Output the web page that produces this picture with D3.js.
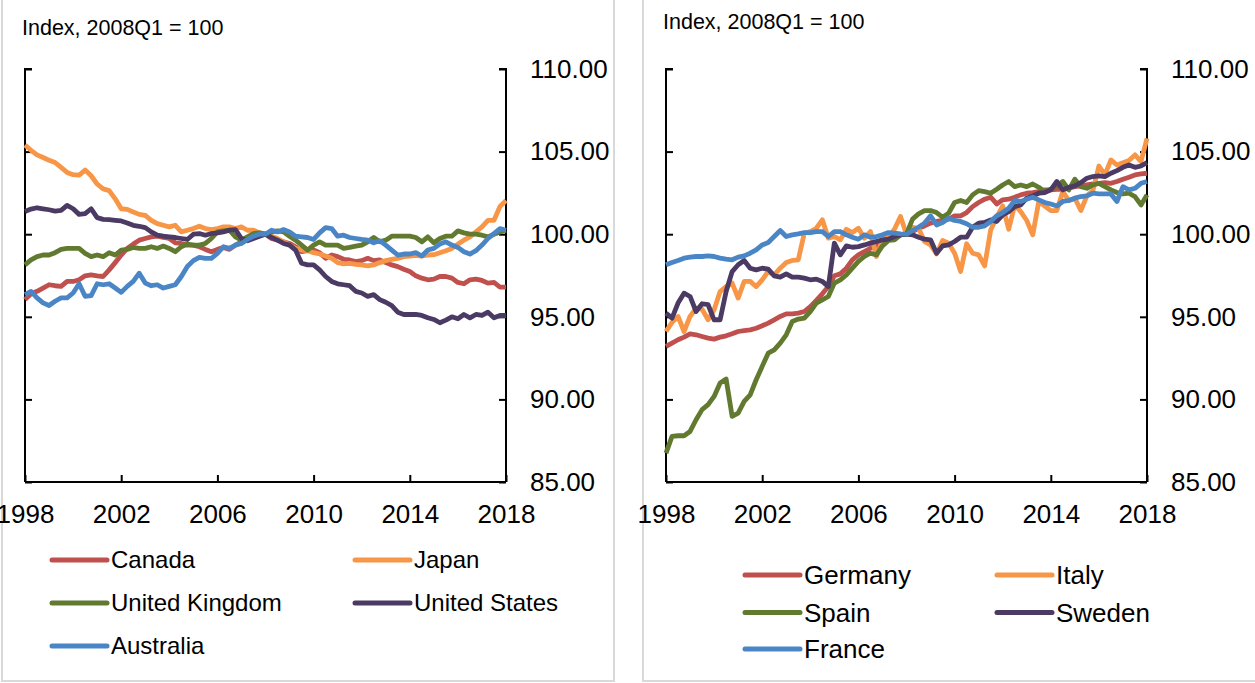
<!DOCTYPE html>
<html>
<head>
<meta charset="utf-8">
<script src="https://cdn.jsdelivr.net/npm/d3@7"></script>
<style>
  html, body { margin: 0; padding: 0; background: #ffffff; }
  svg { display: block; font-family: "Liberation Sans", Arial, sans-serif; }
</style>
</head>
<body>
<svg id="chart" width="1255" height="683"></svg>
<script>
// Quarterly house-price style indices, 1998Q1 .. 2018Q1, 2008Q1 = 100
const startYear = 1998;
const yearTicks = [1998, 2002, 2006, 2010, 2014, 2018];
const valueTicks = [85, 90, 95, 100, 105, 110];
const unitLabel = "Index, 2008Q1 = 100";

const leftCountries = ["Canada", "Japan", "United Kingdom", "United States", "Australia"];
const rightCountries = ["Germany", "Italy", "Spain", "Sweden", "France"];

const canada = [
  96.04,96.4,96.54,96.74,96.94,96.88,96.84,97.14,97.14,97.24,
  97.48,97.54,97.48,97.44,97.84,98.28,98.74,99.14,99.4,99.64,
  99.74,99.84,99.88,99.8,99.74,99.48,99.44,99.34,99.34,99.24,
  99.08,98.94,99.08,99.2,99.08,99.34,99.54,99.68,99.8,99.94,
  100,99.74,99.64,99.54,99.44,99.24,98.94,99.0,99.04,98.88,
  98.54,98.74,98.64,98.48,98.44,98.34,98.4,98.54,98.4,98.44,
  98.28,98.14,98.04,97.88,97.74,97.48,97.34,97.24,97.28,97.44,
  97.44,97.34,97.08,97.0,97.24,97.28,97.2,97.04,97.08,96.8,
  96.8];
const japan = [
  105.4,105.08,104.8,104.64,104.48,104.34,104.04,103.74,103.6,103.58,
  103.88,103.54,103.04,102.74,102.64,102.14,101.54,101.5,101.34,101.2,
  101.14,100.84,100.64,100.54,100.44,100.54,100.14,100.24,100.34,100.48,
  100.34,100.28,100.34,100.44,100.44,100.34,100.44,100.24,100.24,100.08,
  100,99.88,99.74,99.54,99.34,99.14,99.04,99.0,98.88,98.8,
  98.68,98.54,98.28,98.2,98.24,98.18,98.14,98.08,98.14,98.28,
  98.4,98.48,98.54,98.64,98.68,98.72,98.68,98.74,98.76,98.88,
  99.0,99.14,99.4,99.64,99.84,100.14,100.44,100.84,100.84,101.68,
  102.04];
const unitedKingdom = [
  98.14,98.44,98.64,98.74,98.74,98.88,99.08,99.14,99.14,99.14,
  98.84,98.64,98.74,98.64,98.88,98.74,99.04,99.08,99.2,99.14,
  99.14,99.24,99.14,99.28,99.14,98.94,99.24,99.4,99.34,99.34,
  99.44,99.74,100.14,100.2,100.24,99.84,99.64,99.84,100.04,100.08,
  100,100.14,100.2,100.14,99.88,99.64,99.34,99.04,99.34,99.54,
  99.34,99.34,99.34,99.14,99.2,99.28,99.34,99.54,99.8,99.54,
  99.64,99.88,99.88,99.88,99.88,99.8,99.54,99.84,99.48,99.74,
  99.88,99.88,100.2,100.08,100.0,100.0,99.94,99.84,100.0,100.14,
  100.24];
const unitedStates = [
  101.38,101.52,101.6,101.54,101.48,101.4,101.44,101.74,101.54,101.2,
  101.24,101.54,101.0,100.9,100.88,100.84,100.8,100.68,100.54,100.48,
  100.4,100.14,99.94,99.88,99.84,99.8,99.74,99.68,100.0,100.04,
  99.94,100.04,100.08,100.14,100.24,100.28,99.74,99.6,99.74,99.88,
  100,99.8,99.64,99.44,99.34,99.04,98.24,98.14,98.14,97.84,
  97.44,97.14,97.0,96.94,96.88,96.54,96.44,96.24,96.34,96.04,
  95.88,95.68,95.28,95.14,95.14,95.14,95.08,94.94,94.84,94.64,
  94.8,95.0,94.88,95.14,94.94,95.14,95.08,95.28,94.94,95.08,
  95.08];
const australia = [
  96.34,96.54,96.14,95.84,95.68,95.94,96.14,96.14,96.44,97.0,
  96.24,96.28,97.0,96.94,97.0,96.74,96.48,96.84,97.14,97.64,
  97.04,96.88,96.94,96.74,96.84,96.94,97.44,98.04,98.4,98.6,
  98.54,98.54,98.84,99.24,99.14,99.34,99.44,99.68,99.88,100.0,
  100,100.24,100.14,100.28,100.14,99.88,99.84,99.8,99.68,100.08,
  100.4,100.34,99.88,99.94,99.8,99.74,99.68,99.64,99.48,99.6,
  99.34,99.04,98.74,98.8,98.8,98.88,98.68,99.04,99.14,99.4,
  99.54,99.34,99.2,98.94,98.8,99.0,99.34,99.74,100.04,100.34,
  100.24];

const germany = [
  93.21,93.41,93.61,93.77,93.97,93.91,93.81,93.71,93.65,93.77,
  93.85,93.97,94.11,94.17,94.21,94.31,94.46,94.62,94.82,95.02,
  95.18,95.18,95.22,95.32,95.62,95.99,96.39,96.83,97.48,97.6,
  97.94,98.45,98.75,98.95,99.15,99.29,99.56,99.76,99.86,99.96,
  100,100.16,100.36,100.5,100.67,100.77,100.83,100.91,101.11,101.11,
  101.31,101.67,101.92,102.12,102.24,101.83,102.08,102.12,102.24,102.38,
  102.48,102.52,102.58,102.68,102.68,102.72,102.72,102.78,102.88,102.92,
  102.98,103.04,103.08,103.12,103.08,103.19,103.33,103.45,103.59,103.65,
  103.69];
const italy = [
  94.11,94.66,95.02,94.11,95.02,95.52,95.46,94.82,95.42,96.53,
  96.83,97.04,96.13,97.14,97.14,96.83,97.24,97.74,97.54,97.94,
  98.29,98.41,98.45,100.06,100.16,100.36,100.87,99.76,99.86,99.66,
  100.3,100.1,100.36,99.76,100.16,98.65,99.66,99.86,100.3,101.07,
  100,100.42,100.36,99.56,99.35,98.81,99.62,99.46,98.85,97.74,
  99.42,98.85,98.75,98.08,100.26,101.03,101.71,100.3,101.77,101.37,
  100.83,99.96,101.98,101.71,101.43,101.43,102.58,102.04,102.18,101.43,
  102.32,102.64,104.13,103.59,104.5,104.19,104.33,104.46,104.8,104.4,
  105.8];
const spain = [
  86.75,87.76,87.8,87.8,88.06,88.77,89.38,89.68,90.18,90.99,
  91.23,88.97,89.17,89.88,90.28,91.19,92.0,92.8,93.0,93.41,
  93.91,94.72,94.86,94.92,95.32,95.83,96.03,96.23,97.04,97.24,
  97.54,97.94,98.35,98.65,98.85,98.75,99.29,99.62,99.66,99.96,
  100,100.91,101.23,101.43,101.43,101.31,101.03,101.27,101.92,102.04,
  101.92,102.38,102.64,102.58,102.48,102.72,102.98,103.19,102.88,102.98,
  102.88,103.04,102.84,102.58,102.72,102.92,103.19,102.68,103.33,102.88,
  102.78,102.98,103.08,102.88,102.68,102.52,102.44,102.48,102.28,101.77,
  102.38];
const sweden = [
  95.22,94.92,95.83,96.43,96.23,95.32,95.79,95.73,94.82,94.82,
  96.53,97.74,98.15,98.41,97.94,97.84,97.94,97.88,97.48,97.4,
  97.6,97.4,97.4,97.34,97.24,97.28,97.14,96.83,99.46,98.75,
  99.29,99.21,99.25,99.35,99.46,99.56,99.66,99.7,99.86,99.96,
  100,99.96,99.82,99.7,99.66,98.85,99.29,99.35,99.56,99.82,
  99.82,100.42,100.67,100.71,100.87,100.77,101.17,101.37,101.67,101.77,
  102.18,102.32,102.48,102.52,102.68,103.19,102.68,102.84,102.92,103.12,
  103.39,103.49,103.53,103.49,103.69,103.85,104.05,104.19,104.05,104.13,
  104.33];
const france = [
  98.15,98.29,98.41,98.55,98.61,98.65,98.65,98.69,98.65,98.55,
  98.49,98.45,98.61,98.69,98.85,99.05,99.35,99.5,99.86,100.22,
  99.86,99.96,100.02,100.1,100.1,100.16,100.16,99.86,100.16,100.16,
  99.96,99.82,99.7,99.96,99.82,99.86,99.96,100.1,100.06,100.02,
  100,100.22,100.42,100.67,101.11,100.56,100.71,100.97,100.83,100.77,
  100.63,100.42,100.42,100.5,100.77,101.11,101.31,101.57,102.04,101.98,
  102.12,102.24,102.08,101.92,101.83,101.71,101.98,102.04,102.18,102.28,
  102.32,102.48,102.44,102.44,102.44,101.98,102.88,102.68,102.78,103.08,
  103.19];

const palette = ["#C0504D", "#F79646", "#617A30", "#4B3A63", "#4A86C6"];

const panels = [
  {
    names: leftCountries,
    values: [canada, japan, unitedKingdom, unitedStates, australia],
    plot: { left: 25, right: 506, top: 69, bottom: 482 },
    frame: { left: 2, right: 614 },
    title: { x: 22, y: 35 },
    legend: { cols: [52, 355], rows: [560, 603, 646], len: 55, font: 24 }
  },
  {
    names: rightCountries,
    values: [germany, italy, spain, sweden, france],
    plot: { left: 666, right: 1147, top: 69, bottom: 482 },
    frame: { left: 643, right: 1262 },
    title: { x: 663, y: 29 },
    legend: { cols: [745, 997], rows: [575, 612.5, 649], len: 55, font: 26 }
  }
];

const svg = d3.select("#chart");

panels.forEach(p => {
  const g = svg.append("g");

  // panel frame (light grey, open at the top)
  g.append("path")
    .attr("d", `M${p.frame.left},-5 V681 H${p.frame.right} V-5`)
    .attr("fill", "none")
    .attr("stroke", "#D9D9D9")
    .attr("stroke-width", 2);

  const x = d3.scaleLinear().domain([yearTicks[0], yearTicks[yearTicks.length - 1]])
    .range([p.plot.left, p.plot.right]);
  const y = d3.scaleLinear().domain([valueTicks[0], valueTicks[valueTicks.length - 1]])
    .range([p.plot.bottom, p.plot.top]);

  // unit label
  g.append("text")
    .attr("x", p.title.x).attr("y", p.title.y)
    .attr("font-size", 21.5)
    .attr("fill", "#000")
    .text(unitLabel);

  // left value axis: line with inward ticks, no labels
  g.append("g")
    .attr("transform", `translate(${p.plot.left},0)`)
    .call(d3.axisRight(y).tickValues(valueTicks).tickSize(7).tickFormat(""))
    .call(a => a.select(".domain").attr("d", `M7,${p.plot.top}H0V${p.plot.bottom}`))
    .call(a => a.selectAll("path, line").attr("stroke", "#000").attr("stroke-width", 2));

  // right value axis: inward ticks, labels outside
  const ra = g.append("g")
    .attr("transform", `translate(${p.plot.right},0)`)
    .call(d3.axisLeft(y).tickValues(valueTicks).tickSize(7).tickFormat(d3.format(".2f")))
    .call(a => a.select(".domain").attr("d", `M-7,${p.plot.top}H0V${p.plot.bottom}`))
    .call(a => a.selectAll("path, line").attr("stroke", "#000").attr("stroke-width", 2));
  ra.selectAll("text")
    .attr("x", 24)
    .attr("text-anchor", "start")
    .attr("font-size", 26)
    .attr("font-family", "'Liberation Sans', Arial, sans-serif")
    .attr("fill", "#000");

  // year axis: ticks pointing up into the plot
  const xa = g.append("g")
    .attr("transform", `translate(0,${p.plot.bottom})`)
    .call(d3.axisTop(x).tickValues(yearTicks).tickSize(7).tickFormat(d3.format("d")))
    .call(a => a.select(".domain").attr("d", `M${p.plot.left},0H${p.plot.right}`))
    .call(a => a.selectAll("path, line").attr("stroke", "#000").attr("stroke-width", 2));
  xa.selectAll("text")
    .attr("y", 41)
    .attr("dy", 0)
    .attr("text-anchor", "middle")
    .attr("font-size", 26)
    .attr("font-family", "'Liberation Sans', Arial, sans-serif")
    .attr("fill", "#000");

  // series lines
  const line = d3.line()
    .x((d, i) => x(startYear + i / 4))
    .y(d => y(d));

  p.values.forEach((vals, k) => {
    g.append("path")
      .datum(vals)
      .attr("d", line)
      .attr("fill", "none")
      .attr("stroke", palette[k])
      .attr("stroke-width", 4.8)
      .attr("stroke-linejoin", "round")
      .attr("stroke-linecap", "butt");
  });

  // legend, two columns
  p.names.forEach((name, k) => {
    const cx = p.legend.cols[k % 2];
    const cy = p.legend.rows[Math.floor(k / 2)];
    g.append("line")
      .attr("x1", cx).attr("x2", cx + p.legend.len)
      .attr("y1", cy).attr("y2", cy)
      .attr("stroke", palette[k])
      .attr("stroke-width", 5)
      .attr("stroke-linecap", "round");
    g.append("text")
      .attr("x", cx + p.legend.len + 4)
      .attr("y", cy)
      .attr("dy", "0.35em")
      .attr("font-size", p.legend.font)
      .attr("fill", "#000")
      .text(name);
  });
});
</script>
</body>
</html>
